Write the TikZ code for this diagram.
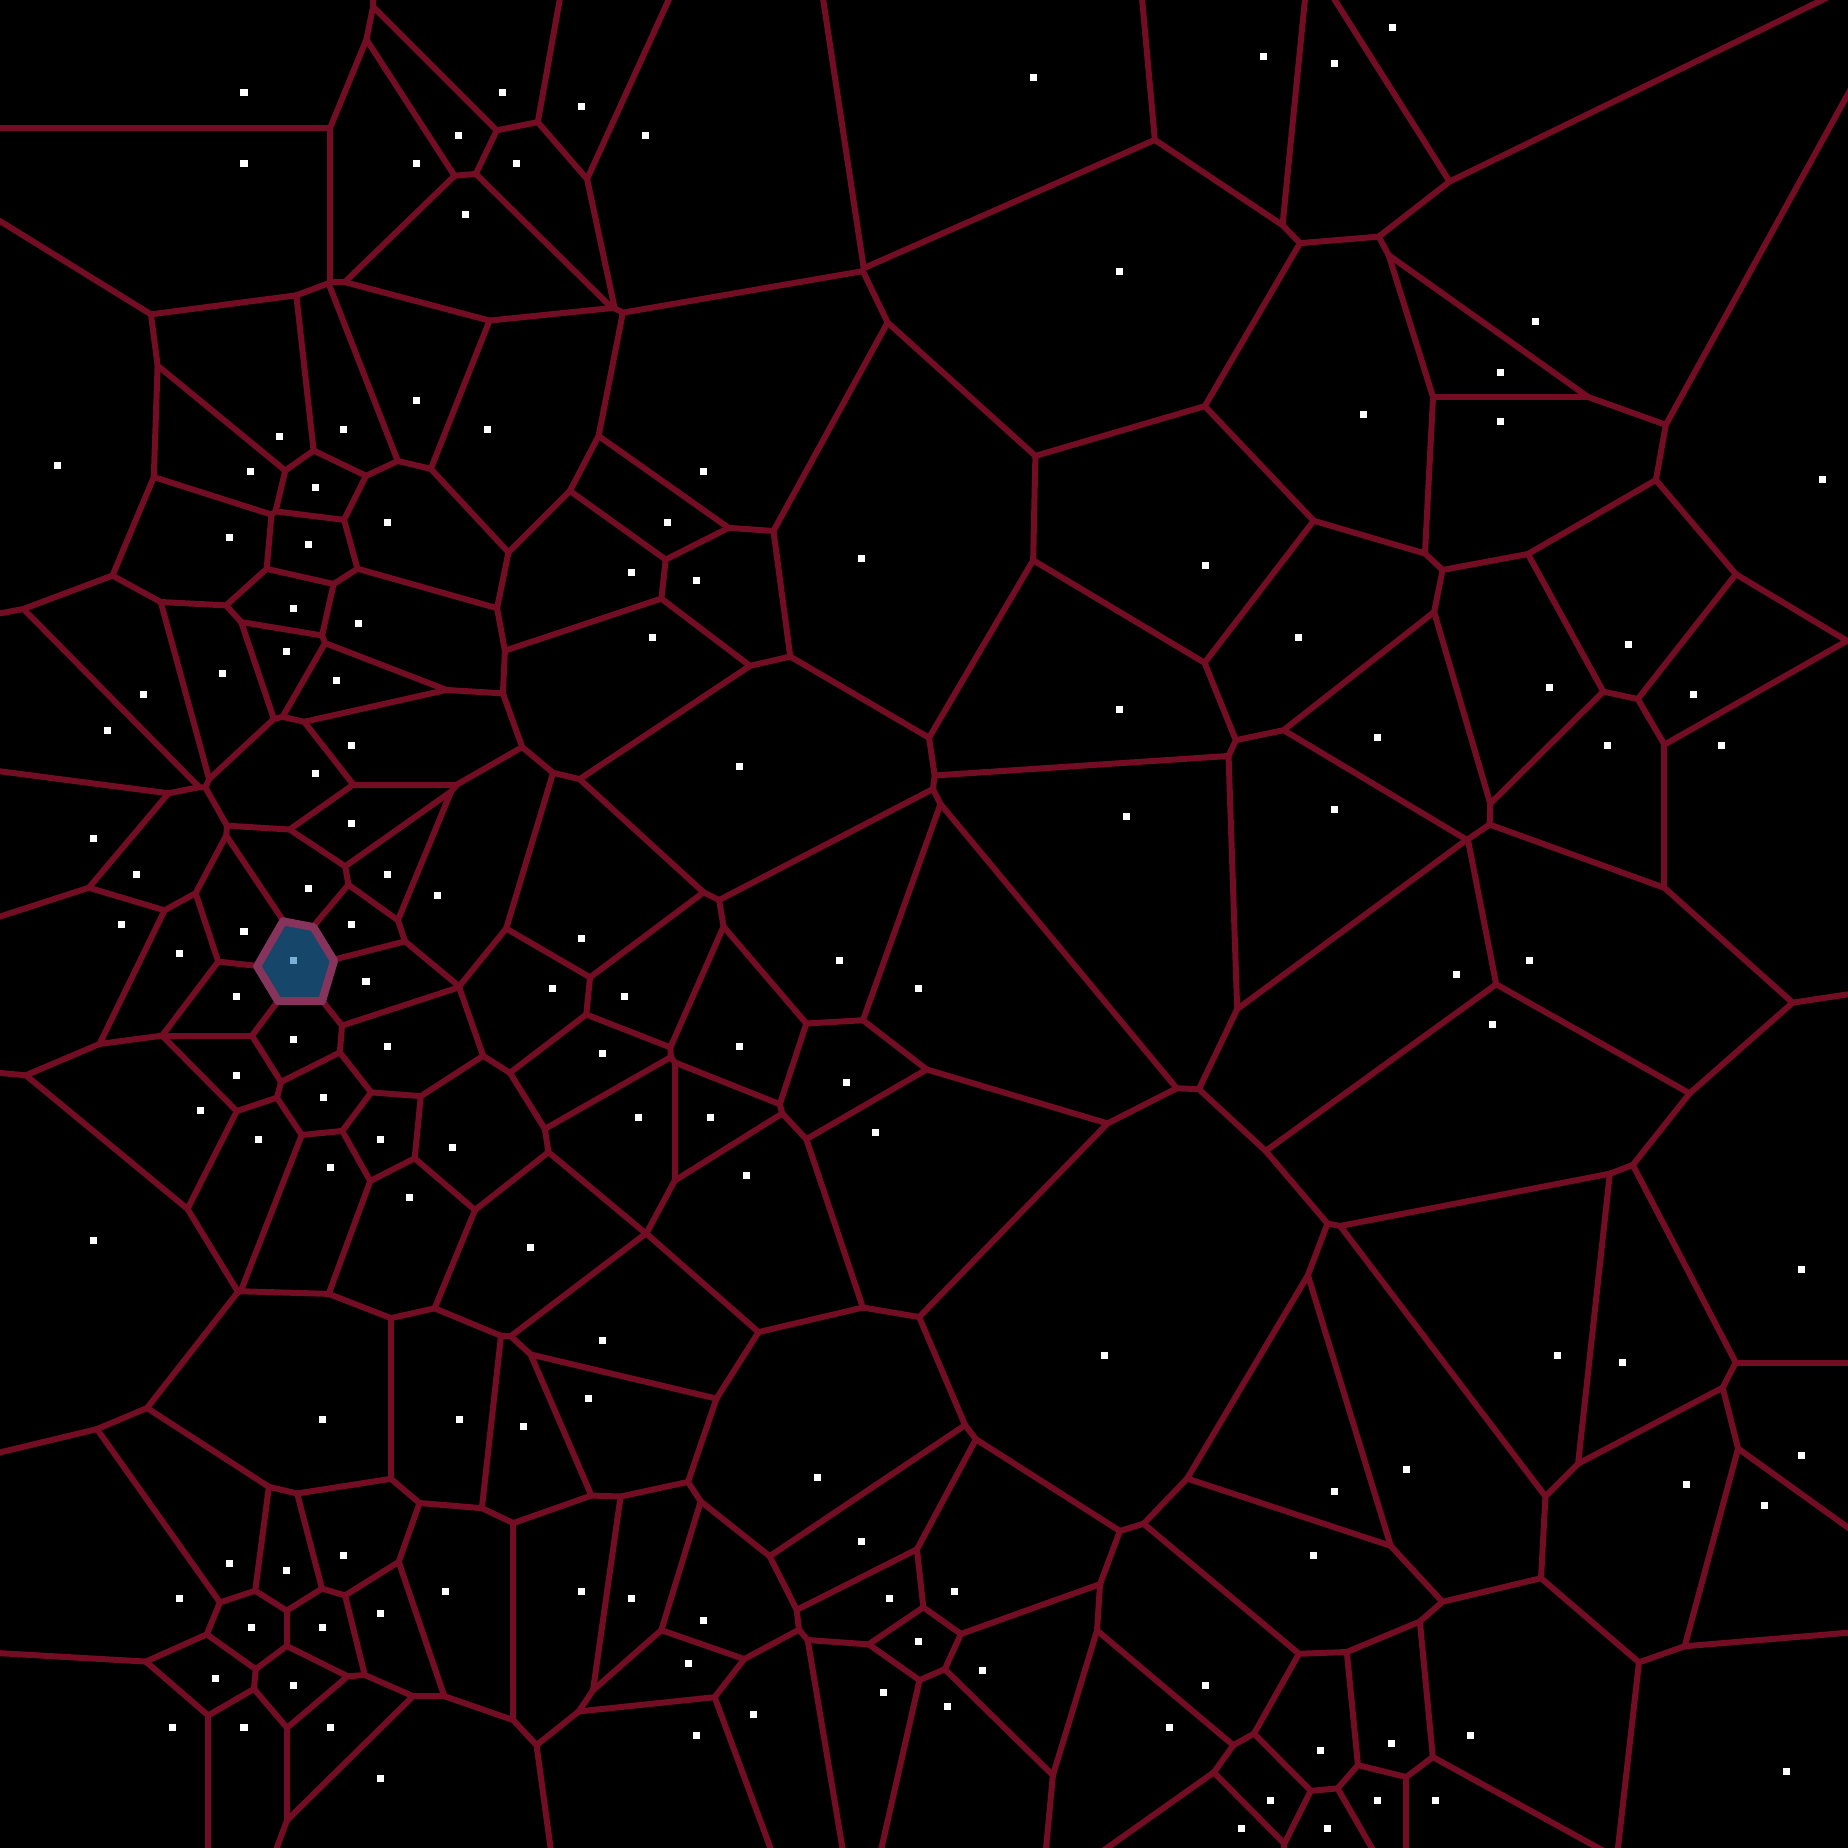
\documentclass[tikz,border=0pt]{standalone}
\definecolor{edgecol}{RGB}{115,13,36}
\definecolor{cellblue}{RGB}{22,71,106}
\definecolor{cellrim}{RGB}{134,52,92}
\definecolor{siteblue}{RGB}{125,176,216}
\tikzset{
  voronoiedge/.style={draw=edgecol, line width=6pt},
  sitedot/.style={fill=white},
  hisite/.style={fill=siteblue},
  hicell/.style={fill=cellblue, draw=cellrim, line width=8pt, line join=round},
}
\newcount\vca
\newcount\vcb
\protected\def\vedge#1#2#3{\draw[voronoiedge,shift={(#1,#2)},rotate=#3] (0,-2700) -- (0,2700);}
\newcommand\sitelist{243.6/92.3,501.3/92.3,580.6/106.5,458.1/135.5,243.6/163.0,415.6/163.0,515.4/163.0,465.1/214.1,415.6/400.3,279.3/435.7,343.0/428.6,487.1/428.6,57.4/464.4,250.3/471.0,315.1/486.4,386.6/522.1,229.4/536.6,308.0/543.7,293.5/607.8,%
1031.6/77.0,644.3/135.5,1117.3/271.5,702.4/471.0,666.3/522.1,630.5/572.0,695.0/579.1,859.6/557.1,1203.3/564.5,%
1389.9/27.1,1261.1/56.2,1332.6/63.3,1533.3/321.4,1497.6/371.6,1361.6/414.1,1497.6/421.1,1819.3/478.9,%
358.3/622.3,286.4/650.6,222.4/672.2,143.4/693.8,336.3/679.3,107.6/729.1,350.8/744.1,315.1/772.0,350.8/822.6,93.5/837.2,136.3/873.3,386.6/873.3,308.0/887.1,436.9/894.1,121.4/923.2,350.8/923.2,243.6/930.3,179.5/951.5,580.6/937.4,293.5/959.0,365.4/980.2,551.6/987.3,236.5/994.7,293.5/1037.5,386.6/1045.0,601.1/1052.1,236.5/1073.3,322.5/1095.3,200.4/1109.0,258.1/1138.1,379.5/1138.1,451.4/1145.2,329.6/1166.0,408.6/1195.1,%
651.8/636.0,1117.3/708.3,737.8/765.3,1124.4/815.2,623.5/994.7,838.4/959.0,917.3/987.3,737.8/1045.0,845.4/1080.4,637.6/1116.1,709.5/1116.1,874.5/1130.6,745.6/1173.9,%
1296.4/636.0,1626.0/643.1,1547.1/686.3,1375.4/736.6,1690.5/693.8,1604.4/744.1,1719.1/744.1,1332.6/808.1,1526.6/959.0,1454.4/973.1,1490.5/1023.0,%
93.5/1238.3,530.0/1245.0,601.1/1338.5,587.3/1396.6,322.1/1417.4,458.5/1417.4,522.5/1424.5,229.4/1560.8,286.4/1568.3,343.4/1553.4,179.5/1596.2,444.3/1589.1,580.6/1589.1,379.5/1611.1,250.6/1625.3,322.1/1625.3,214.9/1675.5,293.5/1682.6,172.1/1725.0,243.6/1725.0,329.6/1725.0,379.5/1775.7,%
1103.1/1353.0,816.4/1474.8,859.6/1539.2,630.5/1596.2,702.4/1618.2,888.3/1596.2,952.7/1589.1,917.3/1639.0,687.5/1661.0,981.0/1668.1,881.6/1689.7,945.6/1704.2,752.3/1711.3,1203.3/1682.6,1167.6/1725.0,695.0/1732.5,%
1798.1/1267.4,1554.5/1353.4,1619.4/1360.5,1798.1/1453.2,1683.4/1482.3,1761.9/1503.5,1404.5/1467.3,1332.6/1489.3,1311.4/1553.4,1783.9/1768.6,1468.1/1732.9,1318.4/1747.4,1389.5/1740.4,1268.1/1797.3,1375.4/1797.3,1432.7/1797.3,1239.1/1826.0,1325.5/1826.0}
\begin{document}
\begin{tikzpicture}[x=1pt,y=-1pt]
\useasboundingbox (0,0) rectangle (1845,1845);
\fill[black] (0,0) rectangle (1845,1845);
\begin{scope}
\clip (0,0) rectangle (1845,1845);
\foreach \sxa/\sya in \sitelist {%
  \gdef\vlines{}%
  \begin{scope}
    \foreach \sxb/\syb in \sitelist {%
      \vca=\numexpr\dimexpr\sxb pt-\sxa pt\relax/65536\relax
      \vcb=\numexpr\dimexpr\syb pt-\sya pt\relax/65536\relax
      \ifnum\numexpr\vca*\vca+\vcb*\vcb\relax<360000
      \ifnum\numexpr\vca*\vca+\vcb*\vcb\relax>0
        \pgfmathsetmacro\mx{(\sxa+\sxb)/2}%
        \pgfmathsetmacro\my{(\sya+\syb)/2}%
        \pgfmathsetmacro\ang{atan2(\sya-\syb,\sxb-\sxa)}%
        \clip[shift={(\mx,\my)},rotate=\ang] (-2700,-2700) -- (1,-2700) -- (1,2700) -- (-2700,2700) -- cycle;
        \xdef\vlines{\vlines\vedge{\mx}{\my}{\ang}}%
      \fi\fi
    }%
    \vlines
  \end{scope}
}
\end{scope}
\filldraw[hicell] (282.6,919.8) -- (312.9,925.6) -- (333.5,959.2) -- (321.5,999.5) -- (277.7,999.5) -- (256.7,964.7) -- cycle;
\foreach \sxa/\sya in \sitelist {\fill[sitedot] (\sxa-3.5,\sya-3.5) rectangle (\sxa+3.5,\sya+3.5);}
\fill[hisite] (290,955.5) rectangle (297,962.5);
\end{tikzpicture}
\end{document}
